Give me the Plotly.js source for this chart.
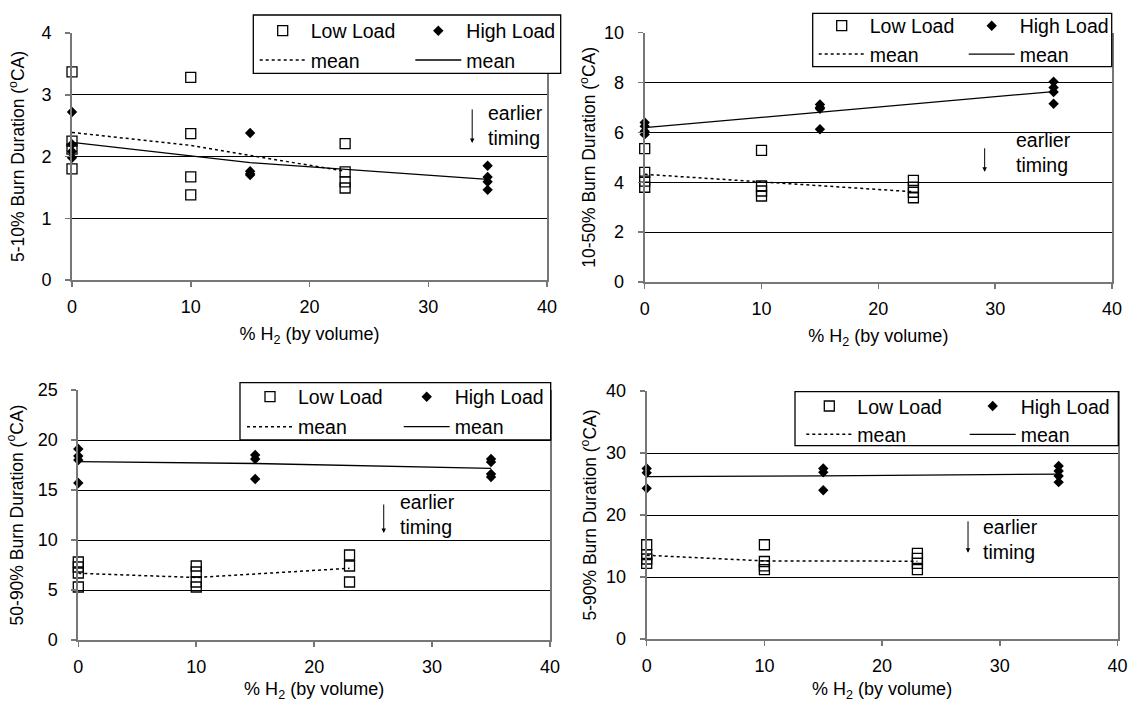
<!DOCTYPE html>
<html><head><meta charset="utf-8">
<script src="https://cdn.plot.ly/plotly-3.0.1.min.js"></script>
<style>html,body{margin:0;padding:0;background:#fff}#chart{width:1129px;height:702px}</style>
</head><body><div id="chart"></div>
<script>
// ---------- data ----------
const seriesNames = ['Low Load', 'High Load', 'mean', 'mean'];
const xTickVals = [0, 10, 20, 30, 40];
const xTitle = '% H<sub>2</sub> (by volume)';
const yTitles = ['5-10% Burn Duration (<sup>o</sup>CA)', '10-50% Burn Duration (<sup>o</sup>CA)',
                 '50-90% Burn Duration (<sup>o</sup>CA)', '5-90% Burn Duration (<sup>o</sup>CA)'];
const yRanges = [[0, 4], [0, 10], [0, 25], [0, 40]];
const yDticks = [1, 2, 5, 10];
const noteText = 'earlier<br>timing';

// Panel 1: 5-10% burn duration
const p1LowX = [0, 0, 0, 0, 10, 10, 10, 10, 23, 23, 23, 23];
const p1LowY = [3.37, 2.25, 2.12, 1.80, 3.28, 2.37, 1.67, 1.38, 2.21, 1.75, 1.59, 1.49];
const p1HighX = [0, 0, 0, 0, 15, 15, 15, 15, 35, 35, 35, 35];
const p1HighY = [2.72, 2.20, 2.08, 1.98, 2.38, 1.76, 1.72, 1.70, 1.85, 1.67, 1.59, 1.46];
const p1MeanLowX = [0, 10, 23];
const p1MeanLowY = [2.39, 2.18, 1.76];
const p1MeanHighX = [0, 15, 35];
const p1MeanHighY = [2.23, 1.90, 1.63];

// Panel 2: 10-50% burn duration
const p2LowX = [0, 0, 0, 0, 10, 10, 10, 10, 23, 23, 23, 23];
const p2LowY = [5.35, 4.40, 4.05, 3.80, 5.28, 3.85, 3.65, 3.45, 4.08, 3.80, 3.60, 3.38];
const p2HighX = [0, 0, 0, 0, 15, 15, 15, 15, 35, 35, 35, 35];
const p2HighY = [6.40, 6.25, 6.05, 5.92, 7.12, 7.00, 6.95, 6.13, 8.03, 7.80, 7.62, 7.15];
const p2MeanLowX = [0, 10, 23];
const p2MeanLowY = [4.32, 4.02, 3.62];
const p2MeanHighX = [0, 15, 35];
const p2MeanHighY = [6.19, 6.82, 7.64];

// Panel 3: 50-90% burn duration
const p3LowX = [0, 0, 0, 0, 10, 10, 10, 10, 23, 23, 23];
const p3LowY = [7.8, 7.3, 6.7, 5.3, 7.4, 6.8, 5.8, 5.3, 8.5, 7.4, 5.8];
const p3HighX = [0, 0, 0, 0, 15, 15, 15, 35, 35, 35, 35];
const p3HighY = [19.1, 18.4, 18.0, 15.7, 18.5, 18.1, 16.1, 18.1, 17.8, 16.6, 16.3];
const p3MeanLowX = [0, 10, 23];
const p3MeanLowY = [6.67, 6.25, 7.17];
const p3MeanHighX = [0, 15, 35];
const p3MeanHighY = [17.83, 17.65, 17.17];

// Panel 4: 5-90% burn duration
const p4LowX = [0, 0, 0, 0, 10, 10, 10, 10, 23, 23, 23, 23];
const p4LowY = [15.2, 13.6, 12.9, 12.2, 15.2, 12.5, 11.8, 11.2, 13.8, 13.0, 12.2, 11.2];
const p4HighX = [0, 0, 0, 15, 15, 15, 35, 35, 35, 35];
const p4HighY = [27.5, 26.8, 24.3, 27.5, 26.9, 24.0, 27.9, 27.1, 26.3, 25.3];
const p4MeanLowX = [0, 10, 23];
const p4MeanLowY = [13.5, 12.6, 12.55];
const p4MeanHighX = [0, 15, 35];
const p4MeanHighY = [26.2, 26.3, 26.6];

// annotation anchors (data coords): arrow tip, arrow length px, text position
const notes = [
  {ax: 33.7, ay: 2.22, len: 35, tx: 34.9, ty: 2.51},
  {ax: 29.1, ay: 4.42, len: 25, tx: 31.6, ty: 5.18},
  {ax: 25.9, ay: 10.7, len: 30, tx: 27.1, ty: 12.58},
  {ax: 27.3, ay: 13.9, len: 33, tx: 28.4, ty: 16.0}
];

// ---------- layout geometry ----------
const W = 1129, H = 702;
const px = v => v / W, py = v => 1 - v / H;
const plots = [ // left, right, top, bottom (px)
  [72, 547, 33, 280],
  [644.7, 1112, 32.7, 282],
  [78.3, 550, 390, 640],
  [646.7, 1117.5, 391, 639]
];
const yTitleStandoff = [12, 4, 10, 5];
const legendBoxes = [ // x0, x1, top, bottom (px)
  [253.3, 560.7, 15, 73.3],
  [812.7, 1111.7, 13.3, 66.7],
  [240, 550.7, 382.7, 440],
  [795, 1118.3, 391.7, 445.7]
];
const legendCols = [[282.7, 438.3], [841.7, 991.7], [270, 426.7], [829.3, 992.7]];
const legendRows = [[30.7, 60], [25.7, 52.3], [396.7, 426.7], [406, 431.7]];

const panels = [
  {lx: p1LowX, ly: p1LowY, hx: p1HighX, hy: p1HighY, mlx: p1MeanLowX, mly: p1MeanLowY, mhx: p1MeanHighX, mhy: p1MeanHighY},
  {lx: p2LowX, ly: p2LowY, hx: p2HighX, hy: p2HighY, mlx: p2MeanLowX, mly: p2MeanLowY, mhx: p2MeanHighX, mhy: p2MeanHighY},
  {lx: p3LowX, ly: p3LowY, hx: p3HighX, hy: p3HighY, mlx: p3MeanLowX, mly: p3MeanLowY, mhx: p3MeanHighX, mhy: p3MeanHighY},
  {lx: p4LowX, ly: p4LowY, hx: p4HighX, hy: p4HighY, mlx: p4MeanLowX, mly: p4MeanLowY, mhx: p4MeanHighX, mhy: p4MeanHighY}
];

const FONT = 'Liberation Sans, Arial, sans-serif';
const LEGFS = 19.5;
const ITEMW = 46;
const traces = [];
const layout = {
  width: W, height: H,
  margin: {l: 0, r: 0, t: 0, b: 0},
  paper_bgcolor: '#fff', plot_bgcolor: '#fff',
  font: {family: FONT, size: 18, color: '#000'},
  showlegend: true,
  shapes: [], annotations: []
};

panels.forEach((p, i) => {
  const n = i + 1;
  const xa = 'x' + (n === 1 ? '' : n), ya = 'y' + (n === 1 ? '' : n);
  const leg1 = 'legend' + (2 * i + 1 === 1 ? '' : 2 * i + 1);
  const leg2 = 'legend' + (2 * i + 2);
  traces.push({type: 'scatter', mode: 'markers', x: p.lx, y: p.ly, xaxis: xa, yaxis: ya, name: seriesNames[0],
    legend: leg1, legendgroup: 'a' + n, cliponaxis: false,
    marker: {symbol: 'square-open', size: 10, color: '#000', line: {width: 1.3, color: '#000'}}});
  traces.push({type: 'scatter', mode: 'markers', x: p.hx, y: p.hy, xaxis: xa, yaxis: ya, name: seriesNames[1],
    legend: leg2, legendgroup: 'c' + n, cliponaxis: false,
    marker: {symbol: 'diamond', size: 8, color: '#000'}});
  traces.push({type: 'scatter', mode: 'lines', x: p.mlx, y: p.mly, xaxis: xa, yaxis: ya, name: seriesNames[2],
    legend: leg1, legendgroup: 'b' + n,
    line: {color: '#000', width: 1.5, dash: 'dot'}});
  traces.push({type: 'scatter', mode: 'lines', x: p.mhx, y: p.mhy, xaxis: xa, yaxis: ya, name: seriesNames[3],
    legend: leg2, legendgroup: 'd' + n,
    line: {color: '#000', width: 1.3}});

  const [l, r, t, b] = plots[i];
  const xKey = 'xaxis' + (n === 1 ? '' : n), yKey = 'yaxis' + (n === 1 ? '' : n);
  layout[xKey] = {
    domain: [px(l), px(r)], anchor: ya, range: [0, 40], tickvals: xTickVals,
    showgrid: false, zeroline: false, showline: true, linecolor: '#777', linewidth: 2,
    ticks: 'outside', ticklen: 5, tickcolor: '#777', tickwidth: 1.5,
    ticklabelstandoff: 4, tickfont: {size: 18},
    title: {text: xTitle, font: {size: 18}, standoff: 12}
  };
  layout[yKey] = {
    domain: [py(b), py(t)], anchor: xa, range: yRanges[i], dtick: yDticks[i], tick0: 0,
    showgrid: true, gridcolor: '#000', gridwidth: 1, zeroline: false,
    showline: true, mirror: true, linecolor: '#777', linewidth: 2,
    ticks: 'outside', ticklen: 5, tickcolor: '#777', tickwidth: 1.5,
    ticklabelstandoff: 0, ticksuffix: '\u00a0\u00a0', tickfont: {size: 18},
    title: {text: yTitles[i], font: {size: 17.5}, standoff: yTitleStandoff[i]}
  };

  const h = LEGFS * 1.3 + 3;
  const gap = Math.max(0, (legendRows[i][1] - legendRows[i][0]) - h);
  const topPx = legendRows[i][0] - 5 - h / 2;
  [0, 1].forEach(c => {
    const key = c === 0 ? leg1 : leg2;
    layout[key] = {
      x: px(legendCols[i][c] - (ITEMW + 10) / 2), xanchor: 'left', xref: 'paper',
      y: py(topPx), yanchor: 'top', yref: 'paper',
      bgcolor: 'rgba(0,0,0,0)', borderwidth: 0, orientation: 'v',
      traceorder: 'grouped', tracegroupgap: gap, itemwidth: ITEMW,
      font: {family: FONT, size: LEGFS, color: '#000'}
    };
  });

  const [bx0, bx1, bt, bb] = legendBoxes[i];
  layout.shapes.push({type: 'rect', xref: 'paper', yref: 'paper', x0: px(bx0), x1: px(bx1), y0: py(bb), y1: py(bt),
    line: {color: '#000', width: 1.3}, fillcolor: '#fff', layer: 'above'});

  const nt = notes[i];
  layout.annotations.push({xref: xa, yref: ya, x: nt.ax, y: nt.ay, ax: 0, ay: -nt.len, text: '',
    showarrow: true, arrowhead: 2, arrowsize: 0.9, arrowwidth: 1, arrowcolor: '#000', standoff: 0});
  layout.annotations.push({xref: xa, yref: ya, x: nt.tx, y: nt.ty, text: noteText, showarrow: false,
    xanchor: 'left', yanchor: 'middle', align: 'left', font: {family: FONT, size: 19.5, color: '#000'}});
});

Plotly.newPlot('chart', traces, layout, {displayModeBar: false, staticPlot: true});
</script>
</body></html>
